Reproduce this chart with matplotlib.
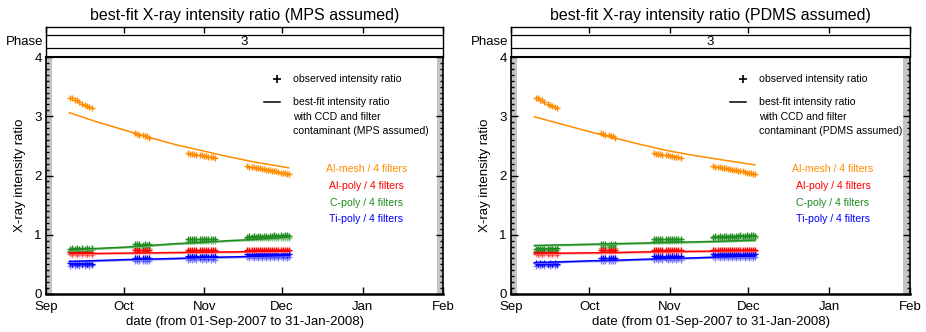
import matplotlib
matplotlib.use("Agg")
import matplotlib.pyplot as plt
import matplotlib.dates as mdates
from matplotlib.ticker import MultipleLocator
import numpy as np
from datetime import datetime

plt.rcParams["font.family"] = ["Liberation Sans", "DejaVu Sans"]

# ---------------------------------------------------------------- data
START = datetime(2007, 9, 1)
END = datetime(2008, 2, 1)
month_dates = [datetime(2007, 9, 1), datetime(2007, 10, 1), datetime(2007, 11, 1),
               datetime(2007, 12, 1), datetime(2008, 1, 1), datetime(2008, 2, 1)]
month_labels = ["Sep", "Oct", "Nov", "Dec", "Jan", "Feb"]

# observation epochs (days since 01-Sep-2007)
obs_days = [9.4, 10.2, 11.0, 11.8, 12.6, 14.0, 14.9, 15.8, 16.7, 17.6,
            34.4, 35.2, 36.0, 37.4, 38.2, 39.0, 39.8,
            54.8, 55.6, 56.4, 57.2, 58.0, 59.4, 60.2, 61.0, 61.8, 62.6, 63.4, 64.2, 65.0,
            77.6, 78.4, 79.2, 80.0, 80.8, 81.6, 82.4, 83.2, 84.0, 84.8, 85.6, 86.4,
            87.2, 88.0, 88.8, 89.6, 90.4, 91.2, 92.0, 92.8, 93.6]

obs_almesh = [3.31, 3.30, 3.28, 3.27, 3.24, 3.21, 3.19, 3.17, 3.15, 3.14,
              2.71, 2.70, 2.69, 2.68, 2.67, 2.66, 2.64,
              2.38, 2.37, 2.37, 2.36, 2.35, 2.35, 2.34, 2.33, 2.33, 2.32, 2.31, 2.31, 2.30,
              2.16, 2.15, 2.15, 2.14, 2.13, 2.13, 2.12, 2.11, 2.11, 2.10, 2.09, 2.09,
              2.08, 2.07, 2.07, 2.06, 2.05, 2.05, 2.04, 2.03, 2.03]
obs_alpoly = [0.71, 0.70, 0.71, 0.70, 0.71, 0.70, 0.71, 0.70, 0.71, 0.70,
              0.75, 0.74, 0.75, 0.74, 0.75, 0.74, 0.75,
              0.75, 0.74, 0.75, 0.74, 0.75, 0.74, 0.75, 0.74, 0.75, 0.74, 0.75, 0.74, 0.75,
              0.75, 0.74, 0.75, 0.74, 0.75, 0.74, 0.75, 0.74, 0.75, 0.74, 0.75, 0.74,
              0.75, 0.74, 0.75, 0.74, 0.75, 0.74, 0.75, 0.74, 0.75]
obs_alpoly_b = [0.67, 0.66, 0.67, 0.66, 0.67, 0.66, 0.67, 0.66, 0.67, 0.66,
                0.71, 0.72, 0.71, 0.72, 0.71, 0.72, 0.71,
                0.72, 0.72, 0.71, 0.72, 0.72, 0.71, 0.72, 0.72, 0.71, 0.72, 0.72, 0.71, 0.72,
                0.72, 0.72, 0.73, 0.72, 0.72, 0.73, 0.72, 0.72, 0.73, 0.72, 0.72, 0.73,
                0.72, 0.72, 0.73, 0.72, 0.72, 0.73, 0.72, 0.72, 0.73]
obs_cpoly = [0.76, 0.77, 0.76, 0.77, 0.76, 0.77, 0.76, 0.77, 0.76, 0.77,
             0.84, 0.85, 0.84, 0.83, 0.84, 0.83, 0.84,
             0.92, 0.93, 0.92, 0.93, 0.92, 0.93, 0.92, 0.93, 0.92, 0.93, 0.92, 0.93, 0.93,
             0.97, 0.98, 0.97, 0.98, 0.97, 0.98, 0.98, 0.97, 0.98, 0.98, 0.97, 0.98,
             0.98, 0.99, 0.98, 0.98, 0.99, 0.98, 0.99, 0.99, 0.98]
obs_cpoly_b = [0.73, 0.74, 0.73, 0.74, 0.73, 0.74, 0.73, 0.74, 0.73, 0.74,
               0.78, 0.79, 0.78, 0.79, 0.78, 0.79, 0.78,
               0.89, 0.89, 0.90, 0.89, 0.89, 0.90, 0.89, 0.89, 0.90, 0.89, 0.89, 0.90, 0.89,
               0.94, 0.94, 0.95, 0.94, 0.94, 0.95, 0.94, 0.94, 0.95, 0.94, 0.94, 0.95,
               0.94, 0.95, 0.95, 0.94, 0.95, 0.95, 0.94, 0.95, 0.95]
obs_tipoly = [0.52, 0.51, 0.52, 0.51, 0.52, 0.51, 0.52, 0.51, 0.52, 0.51,
              0.61, 0.60, 0.61, 0.60, 0.61, 0.60, 0.61,
              0.64, 0.63, 0.64, 0.63, 0.64, 0.63, 0.64, 0.63, 0.64, 0.63, 0.64, 0.63, 0.64,
              0.67, 0.66, 0.67, 0.66, 0.67, 0.66, 0.67, 0.66, 0.67, 0.66, 0.67, 0.66,
              0.67, 0.66, 0.67, 0.66, 0.67, 0.66, 0.67, 0.66, 0.67]
obs_tipoly_b = [0.48, 0.49, 0.48, 0.49, 0.48, 0.49, 0.48, 0.49, 0.48, 0.49,
                0.55, 0.56, 0.55, 0.56, 0.55, 0.56, 0.55,
                0.58, 0.59, 0.58, 0.59, 0.58, 0.59, 0.58, 0.59, 0.58, 0.59, 0.58, 0.59, 0.58,
                0.62, 0.61, 0.62, 0.61, 0.62, 0.61, 0.62, 0.61, 0.62, 0.61, 0.62, 0.61,
                0.62, 0.61, 0.62, 0.61, 0.62, 0.61, 0.62, 0.61, 0.62]

# best-fit model curves (days since 01-Sep-2007)
fit_days = [9.0, 20.0, 30.0, 40.0, 50.0, 60.0, 70.0, 80.0, 93.5]
fit_mps = {
    "almesh": [3.06, 2.90, 2.77, 2.64, 2.52, 2.42, 2.32, 2.23, 2.13],
    "alpoly": [0.68, 0.685, 0.69, 0.695, 0.70, 0.705, 0.71, 0.715, 0.72],
    "cpoly":  [0.74, 0.77, 0.79, 0.82, 0.85, 0.87, 0.90, 0.92, 0.96],
    "tipoly": [0.55, 0.565, 0.58, 0.59, 0.60, 0.615, 0.625, 0.635, 0.65],
}
fit_pdms = {
    "almesh": [2.99, 2.86, 2.74, 2.63, 2.52, 2.42, 2.34, 2.27, 2.18],
    "alpoly": [0.68, 0.69, 0.695, 0.70, 0.71, 0.715, 0.72, 0.725, 0.73],
    "cpoly":  [0.82, 0.83, 0.84, 0.85, 0.86, 0.87, 0.88, 0.89, 0.91],
    "tipoly": [0.53, 0.545, 0.56, 0.57, 0.585, 0.60, 0.61, 0.625, 0.64],
}

filter_labels = ["Al-mesh / 4 filters", "Al-poly / 4 filters",
                 "C-poly / 4 filters", "Ti-poly / 4 filters"]
colors = {"almesh": "#ff8c00", "alpoly": "#ff0000", "cpoly": "#1e8c1e", "tipoly": "#0000ff"}
light = {"alpoly": "#ff9a9a", "cpoly": "#7fc27f", "tipoly": "#8080ff"}

t0 = mdates.date2num(START)
t1 = mdates.date2num(END)
obs_t = t0 + np.array(obs_days)
fit_t = t0 + np.array(fit_days)
month_t = mdates.date2num(month_dates)

W, H = 926, 332
fig = plt.figure(figsize=(W / 100, H / 100), dpi=100)


def panel(left_px, right_px, material, fits):
    x0 = left_px / W
    w = (right_px - left_px) / W
    ax = fig.add_axes([x0, 1 - 294 / H, w, (294 - 57) / H])
    ph = fig.add_axes([x0, 1 - 57 / H, w, (57 - 27) / H])

    # main panel frame
    ax.set_xlim(t0, t1)
    ax.set_ylim(0, 4)
    ax.axvspan(t0, t0 + 2.2, color="#c4c4c4", lw=0, zorder=0)
    ax.axvspan(t1 - 2.5, t1, color="#c4c4c4", lw=0, zorder=0)
    ax.set_yticks([0, 1, 2, 3, 4])
    ax.set_yticklabels(["0", "1", "2", "3", "4"], fontsize=9.5)
    ax.yaxis.set_minor_locator(MultipleLocator(0.1))
    ax.tick_params(axis="y", which="major", direction="in", length=5, width=1,
                   left=True, right=True, pad=3)
    ax.tick_params(axis="y", which="minor", direction="in", length=2.2, width=1,
                   left=True, right=True)
    ax.set_xticks(month_t)
    ax.set_xticklabels(month_labels, fontsize=9.5)
    ax.tick_params(axis="x", direction="in", length=5, width=1, pad=5, top=False)
    ax.xaxis.set_minor_locator(plt.NullLocator())
    for s in ("left", "right", "top"):
        ax.spines[s].set_linewidth(1.2)
    ax.spines["bottom"].set_linewidth(1.8)
    ax.set_ylabel("X-ray intensity ratio", fontsize=9.5, labelpad=6)
    ax.set_xlabel("date (from 01-Sep-2007 to 31-Jan-2008)", fontsize=9.5, labelpad=2)

    # observed ratios
    mk = dict(ls="none", marker="+", ms=4.5, mew=1)
    ax.plot(obs_t, obs_alpoly_b, color=light["alpoly"], **mk)
    ax.plot(obs_t, obs_tipoly_b, color=light["tipoly"], **mk)
    ax.plot(obs_t, obs_cpoly_b, color=light["cpoly"], **mk)
    ax.plot(obs_t, obs_almesh, color=colors["almesh"], **mk)
    ax.plot(obs_t, obs_alpoly, color=colors["alpoly"], **mk)
    ax.plot(obs_t, obs_cpoly, color=colors["cpoly"], **mk)
    ax.plot(obs_t, obs_tipoly, color=colors["tipoly"], **mk)

    # best-fit curves
    for key in ("alpoly", "cpoly", "tipoly"):
        ax.plot(fit_t, np.array(fits[key]) - 0.012, color=light[key], lw=1.2)
    for key in ("almesh", "alpoly", "cpoly", "tipoly"):
        ax.plot(fit_t, fits[key], color=colors[key], lw=1.1)

    # key
    ax.plot([0.582], [0.907], transform=ax.transAxes, marker="+", ms=6, mew=1.2,
            color="k", ls="none")
    ax.text(0.622, 0.907, "observed intensity ratio", transform=ax.transAxes,
            fontsize=7.6, va="center", ha="left")
    ax.plot([0.549, 0.589], [0.81, 0.81], transform=ax.transAxes, color="k", lw=1.1)
    for yy, line in zip([0.81, 0.748, 0.686],
                        ["best-fit intensity ratio", "with CCD and filter",
                         "contaminant (%s assumed)" % material]):
        ax.text(0.622, yy, line, transform=ax.transAxes, fontsize=7.6,
                va="center", ha="left")
    for yy, lab, key in zip([0.527, 0.456, 0.384, 0.316], filter_labels,
                            ["almesh", "alpoly", "cpoly", "tipoly"]):
        ax.text(0.807, yy, lab, transform=ax.transAxes, fontsize=7.6,
                va="center", ha="center", color=colors[key])

    # phase strip
    ph.set_xlim(t0, t1)
    ph.set_ylim(0, 1)
    ph.set_yticks([])
    ph.set_xticks(month_t)
    ph.tick_params(axis="x", direction="in", length=4, width=1, top=True,
                   bottom=False, labelbottom=False)
    for s in ph.spines.values():
        s.set_linewidth(1.0)
    ph.spines["bottom"].set_linewidth(1.5)
    ph.axhline(0.72, color="k", lw=0.9)
    ph.axhline(0.31, color="k", lw=0.9)
    ph.text(0.5, 0.50, "3", transform=ph.transAxes, ha="center", va="center", fontsize=9.5)
    ph.text(-0.006, 0.50, "Phase", transform=ph.transAxes, ha="right", va="center",
            fontsize=9.5)
    ph.set_title("best-fit X-ray intensity ratio (%s assumed)" % material,
                 fontsize=11.5, pad=5)


panel(46, 443, "MPS", fit_mps)
panel(511, 910, "PDMS", fit_pdms)

fig.savefig("out.png", dpi=100)
